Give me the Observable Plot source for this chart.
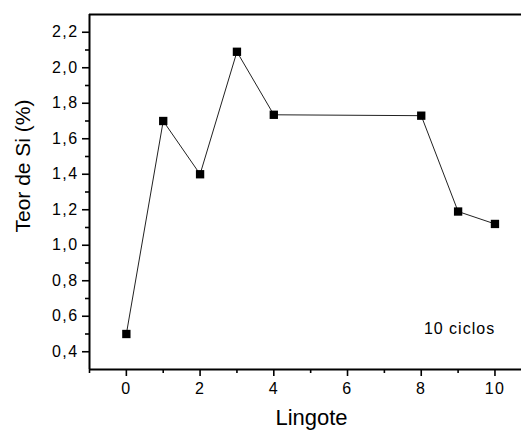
<!DOCTYPE html>
<html>
<head>
<meta charset="utf-8">
<script src="https://cdn.jsdelivr.net/npm/d3@7"></script>
<script src="https://cdn.jsdelivr.net/npm/@observablehq/plot@0.6"></script>
<style>
  html, body { margin: 0; padding: 0; background: #fff; }
</style>
</head>
<body>
<div id="chart"></div>
<script>
// Data
const lingote = [0, 1, 2, 3, 4, 8, 9, 10];
const teorSi = [0.50, 1.70, 1.40, 2.09, 1.735, 1.73, 1.19, 1.12];

// Axes / ticks
const xDomain = [-1, 10.72];
const yDomain = [0.3, 2.3];
const xMajor = [0, 2, 4, 6, 8, 10];
const xMinor = [-1, 1, 3, 5, 7, 9];
const yMajor = [0.4, 0.6, 0.8, 1.0, 1.2, 1.4, 1.6, 1.8, 2.0, 2.2];
const yMinor = [0.5, 0.7, 0.9, 1.1, 1.3, 1.5, 1.7, 1.9, 2.1];

// Text
const xTitle = "Lingote";
const yTitle = "Teor de Si (%)";
const note = "10 ciclos";

const data = lingote.map((x, i) => ({x, y: teorSi[i]}));
const fmtY = d => d3.format(".1f")(d).replace(".", ",");

const chart = Plot.plot({
  width: 521,
  height: 430,
  marginLeft: 89,
  marginRight: 0,
  marginTop: 14,
  marginBottom: 61,
  style: {fontFamily: "'Liberation Sans', Arial, sans-serif", fontSize: "16px", color: "#000", background: "#fff"},
  x: {domain: xDomain},
  y: {domain: yDomain},
  marks: [
    Plot.axisX(xMajor, {tickSize: 7, tickPadding: 6, strokeWidth: 1.6, tickFormat: d => String(d), label: null}),
    Plot.axisX(xMinor, {tickSize: 4, strokeWidth: 1.6, tickFormat: () => "", label: null}),
    Plot.axisY(yMajor, {tickSize: 7, tickPadding: 4, strokeWidth: 1.6, tickFormat: fmtY, label: null}),
    Plot.axisY(yMinor, {tickSize: 4, strokeWidth: 1.6, tickFormat: () => "", label: null}),
    Plot.ruleX([xDomain[0]], {stroke: "#000", strokeWidth: 2}),
    Plot.ruleY([yDomain[0]], {stroke: "#000", strokeWidth: 2}),
    Plot.ruleY([yDomain[1]], {stroke: "#000", strokeWidth: 2}),
    Plot.line(data, {x: "x", y: "y", stroke: "#222", strokeWidth: 1}),
    Plot.dot(data, {x: "x", y: "y", symbol: "square", r: 4.7, fill: "#000", stroke: "none"}),
    Plot.text([note], {frameAnchor: "bottom-right", dx: -62, dy: -36, fontSize: 16, textAnchor: "middle", fill: "#000"}),
    Plot.text([xTitle], {frameAnchor: "bottom", dx: 6, dy: 55, fontSize: 22, textAnchor: "middle", fill: "#000"}),
    Plot.text([yTitle], {frameAnchor: "left", dx: -66, dy: -26, rotate: -90, fontSize: 21, textAnchor: "middle", fill: "#000"})
  ]
});
document.getElementById("chart").appendChild(chart);
// widen tick labels and note slightly, like the reference
d3.select(chart).selectAll("g[aria-label='x-axis tick label'] text, g[aria-label='y-axis tick label'] text")
  .style("letter-spacing", "1.4px");
d3.select(chart).selectAll("g[aria-label='text'] text")
  .filter(function() { return this.textContent === note; })
  .style("letter-spacing", "1px");
</script>
</body>
</html>
